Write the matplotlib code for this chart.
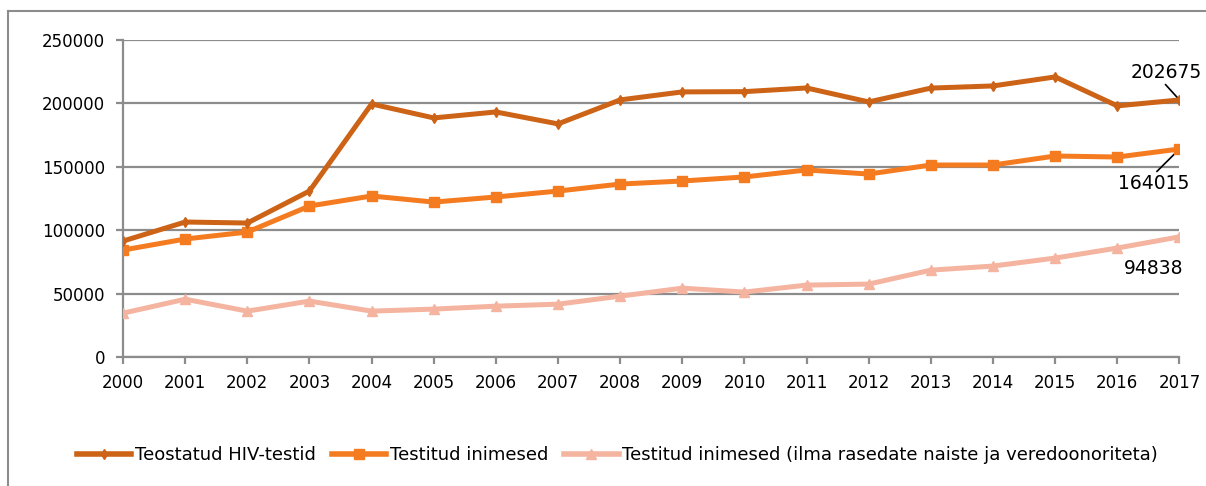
import matplotlib
matplotlib.use("Agg")
import matplotlib.pyplot as plt
from matplotlib.lines import Line2D

years = list(range(2000, 2018))

hiv_tests = [91500, 106500, 105700, 130900, 199500, 188500, 193200, 183800, 202700,
             209000, 209200, 212100, 201100, 212000, 213700, 220800, 198000, 202675]
tested_people = [84400, 93100, 98600, 119100, 127000, 122200, 126200, 130900, 136400,
                 138800, 142000, 147500, 144300, 151400, 151400, 158500, 157700, 164015]
tested_excl = [34700, 45700, 36300, 44200, 36300, 37900, 40200, 41800, 48100,
               54400, 51300, 56800, 57600, 68600, 71800, 78100, 86000, 94838]

labels = ["Teostatud HIV-testid", "Testitud inimesed",
          "Testitud inimesed (ilma rasedate naiste ja veredoonoriteta)"]
colors = ["#CC6316", "#F47B20", "#F4B4A0"]

plt.rcParams['font.family'] = ['DejaVu Sans']

fig = plt.figure(figsize=(12.06, 4.86), dpi=100)
ax = fig.add_axes([0.102, 0.265, 0.876, 0.653])

ax.plot(years, tested_excl, color=colors[2], lw=3.6, marker='^', ms=7, zorder=3)
ax.plot(years, tested_people, color=colors[1], lw=3.6, marker='s', ms=7, zorder=4)
ax.plot(years, hiv_tests, color=colors[0], lw=3.6, marker='d', ms=5, zorder=5)

ax.set_xlim(2000, 2017)
ax.set_ylim(0, 250000)
ax.set_xticks(years)
ax.set_yticks(range(0, 250001, 50000))
ax.yaxis.grid(True, color='#8c8c8c', lw=1.6)
ax.set_axisbelow(True)
for s in ['top', 'right']:
    ax.spines[s].set_visible(False)
for s in ['left', 'bottom']:
    ax.spines[s].set_color('#8c8c8c')
    ax.spines[s].set_linewidth(1.6)
ax.tick_params(axis='both', colors='#8c8c8c', width=1.6, length=5, labelcolor='black',
               labelsize=12)
ax.tick_params(axis='x', pad=7)
ax.tick_params(axis='y', pad=8)

# end value labels
ax.annotate(str(hiv_tests[-1]), xy=(years[-1], hiv_tests[-1]), xytext=(-35, 16),
            textcoords='offset points', fontsize=13.5,
            arrowprops=dict(arrowstyle='-', color='black', lw=1.2, shrinkA=0, shrinkB=2,
                            relpos=(0.45, 0)))
ax.annotate(str(tested_people[-1]), xy=(years[-1], tested_people[-1]), xytext=(-44, -29),
            textcoords='offset points', fontsize=13.5,
            arrowprops=dict(arrowstyle='-', color='black', lw=1.2, shrinkA=0, shrinkB=2,
                            relpos=(0.5, 1)))
ax.annotate(str(tested_excl[-1]), xy=(years[-1], tested_excl[-1]), xytext=(-40, -27),
            textcoords='offset points', fontsize=13.5)

handles = [Line2D([], [], color=colors[0], lw=4, marker='d', ms=5),
           Line2D([], [], color=colors[1], lw=4, marker='s', ms=7),
           Line2D([], [], color=colors[2], lw=4, marker='^', ms=7)]
fig.legend(handles, labels, loc='center', bbox_to_anchor=(0.512, 0.063), ncol=3,
           frameon=False, handlelength=3.0, handletextpad=0.2, columnspacing=0.9,
           fontsize=13)

# outer frame (left and top edges visible)
fig.add_artist(Line2D([0.007, 0.007], [0, 0.978], color='#8c8c8c', lw=1.5,
                      transform=fig.transFigure))
fig.add_artist(Line2D([0.007, 1.0], [0.978, 0.978], color='#8c8c8c', lw=1.5,
                      transform=fig.transFigure))

fig.savefig('out.png', dpi=100)
